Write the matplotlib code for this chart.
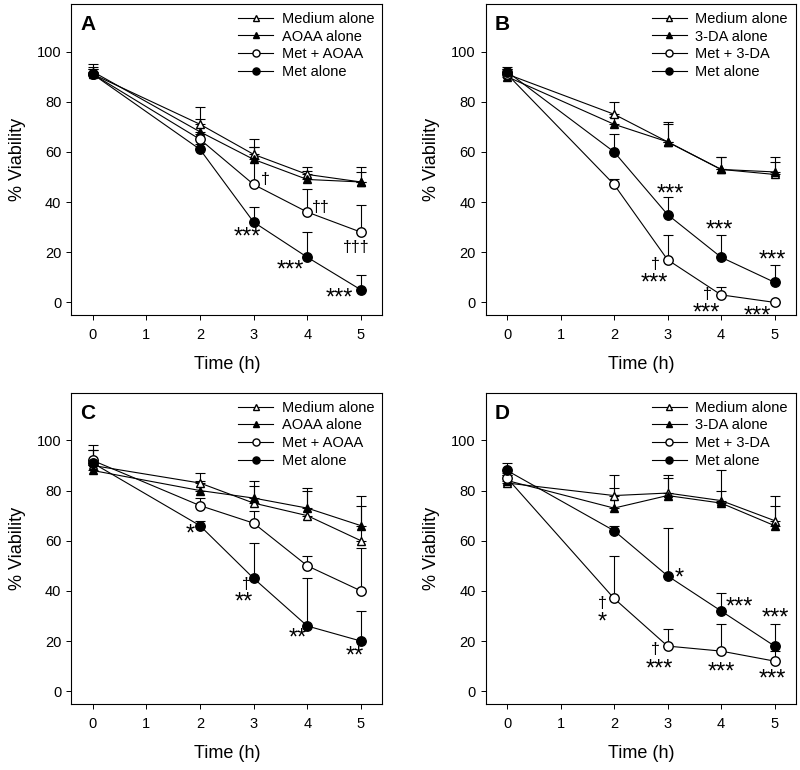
import numpy as np
import matplotlib
matplotlib.use('Agg')
import matplotlib.pyplot as plt
from matplotlib.lines import Line2D

plt.rcParams['font.family'] = ['Liberation Sans', 'DejaVu Sans']

times = [0, 2, 3, 4, 5]

# panel A (AOAA)
medA = [91, 71, 59, 51, 48]
medA_err = [3, 7, 6, 3, 6]
aoaaA = [92, 68, 57, 49, 48]
aoaaA_err = [3, 5, 5, 3.5, 4]
metaoaaA = [91, 65, 47, 36, 28]
metaoaaA_err = [2, 2, 15, 9, 11]
metA = [91, 61, 32, 18, 5]
metA_err = [2, 2, 6, 10, 6]

# panel B (3-DA)
medB = [91, 75, 64, 53, 51]
medB_err = [2, 5, 8, 5, 5]
daB = [90, 71, 64, 53, 52]
daB_err = [2, 3, 7, 5, 6]
metdaB = [91, 47, 17, 3, 0]
metdaB_err = [2, 2, 10, 3, 0]
metB = [92, 60, 35, 18, 8]
metB_err = [2, 7, 7, 9, 7]

# panel C (AOAA)
medC = [90, 83, 75, 70, 60]
medC_err = [6, 4, 7, 10, 14]
aoaaC = [88, 80, 77, 73, 66]
aoaaC_err = [2, 4, 7, 8, 12]
metaoaaC = [92, 74, 67, 50, 40]
metaoaaC_err = [4, 3, 5, 4, 17]
metC = [91, 66, 45, 26, 20]
metC_err = [7, 2, 14, 19, 12]

# panel D (3-DA)
medD = [83, 78, 79, 76, 68]
medD_err = [3, 8, 7, 12, 10]
daD = [84, 73, 78, 75, 66]
daD_err = [2, 8, 7, 5, 8]
metdaD = [85, 37, 18, 16, 12]
metdaD_err = [2, 17, 7, 11, 4]
metD = [88, 64, 46, 32, 18]
metD_err = [3, 2, 19, 7, 9]

labelsA = ['Medium alone', 'AOAA alone', 'Met + AOAA', 'Met alone']
labelsB = ['Medium alone', '3-DA alone', 'Met + 3-DA', 'Met alone']

# significance marks (x, y, text)
notesA = [(3.22, 49, '\u2020'), (4.25, 38, '\u2020\u2020'), (4.92, 22, '\u2020\u2020\u2020'),
          (2.88, 26, '***'), (3.69, 12.5, '***'), (4.6, 1.5, '***')]
notesB = [(3.06, 43, '***'), (3.96, 28.5, '***'), (4.96, 16.5, '***'),
          (2.78, 15, '\u2020'), (2.75, 7.5, '***'), (3.74, 3, '\u2020'),
          (3.73, -4.5, '***'), (4.68, -5.5, '***')]
notesC = [(1.82, 62.5, '*'), (2.87, 42.5, '\u2020'), (2.81, 35.5, '**'),
          (3.82, 21, '**'), (4.88, 14, '**')]
notesD = [(1.78, 35, '\u2020'), (1.78, 27.5, '*'), (3.22, 45, '*'),
          (4.35, 33.5, '***'), (5.02, 29, '***'), (2.78, 16.5, '\u2020'),
          (2.84, 8.5, '***'), (4.0, 7.5, '***'), (4.96, 4.5, '***')]

styles = [('^', 'white'), ('^', 'black'), ('o', 'white'), ('o', 'black')]


def panel(ax, series, errs, labels, notes, letter):
    handles = []
    for (mk, fc), y, e, lab in zip(styles, series, errs, labels):
        e = np.array(e, dtype=float)
        ms = 6.8 if mk == 'o' else 6.3
        ax.errorbar(times, y, yerr=[np.zeros_like(e), e], color='black',
                    marker=mk, markerfacecolor=fc, markeredgecolor='black',
                    markersize=ms, lw=0.8, elinewidth=0.8,
                    capsize=3.8, capthick=0.8)
        handles.append(Line2D([], [], color='black', lw=0.8, marker=mk,
                              markerfacecolor=fc, markeredgecolor='black',
                              markersize=ms * 0.75, label=lab))
    for x, y, t in notes:
        if '*' in t:
            ax.text(x, y, t, ha='center', va='center', fontsize=17)
        else:
            ax.text(x, y, t, ha='center', va='center', fontsize=11.5)
    ax.set_xlim(-0.4, 5.4)
    ax.set_ylim(-5, 119)
    ax.set_xticks([0, 1, 2, 3, 4, 5])
    ax.set_yticks([0, 20, 40, 60, 80, 100])
    ax.tick_params(labelsize=10.5, direction='out', length=3.5, width=0.7)
    ax.tick_params(axis='x', pad=6)
    for s in ax.spines.values():
        s.set_linewidth(0.8)
    ax.set_xlabel('Time (h)', fontsize=13, labelpad=10)
    ax.set_ylabel('% Viability', fontsize=13, labelpad=8)
    ax.text(0.03, 0.965, letter, transform=ax.transAxes, va='top', ha='left',
            fontsize=15, fontweight='bold')
    ax.legend(handles=handles, loc='upper right', frameon=False, fontsize=10.5,
              handlelength=2.4, handletextpad=0.6, labelspacing=0.25,
              borderaxespad=0.35, borderpad=0.2)


fig = plt.figure(figsize=(8, 7.7), dpi=100)
axA = fig.add_axes([0.089, 0.591, 0.389, 0.404])
axB = fig.add_axes([0.607, 0.591, 0.388, 0.404])
axC = fig.add_axes([0.089, 0.086, 0.389, 0.404])
axD = fig.add_axes([0.607, 0.086, 0.388, 0.404])

panel(axA, [medA, aoaaA, metaoaaA, metA], [medA_err, aoaaA_err, metaoaaA_err, metA_err],
      labelsA, notesA, 'A')
panel(axB, [medB, daB, metdaB, metB], [medB_err, daB_err, metdaB_err, metB_err],
      labelsB, notesB, 'B')
panel(axC, [medC, aoaaC, metaoaaC, metC], [medC_err, aoaaC_err, metaoaaC_err, metC_err],
      labelsA, notesC, 'C')
panel(axD, [medD, daD, metdaD, metD], [medD_err, daD_err, metdaD_err, metD_err],
      labelsB, notesD, 'D')

plt.savefig('out.png', dpi=100)
plt.close()
